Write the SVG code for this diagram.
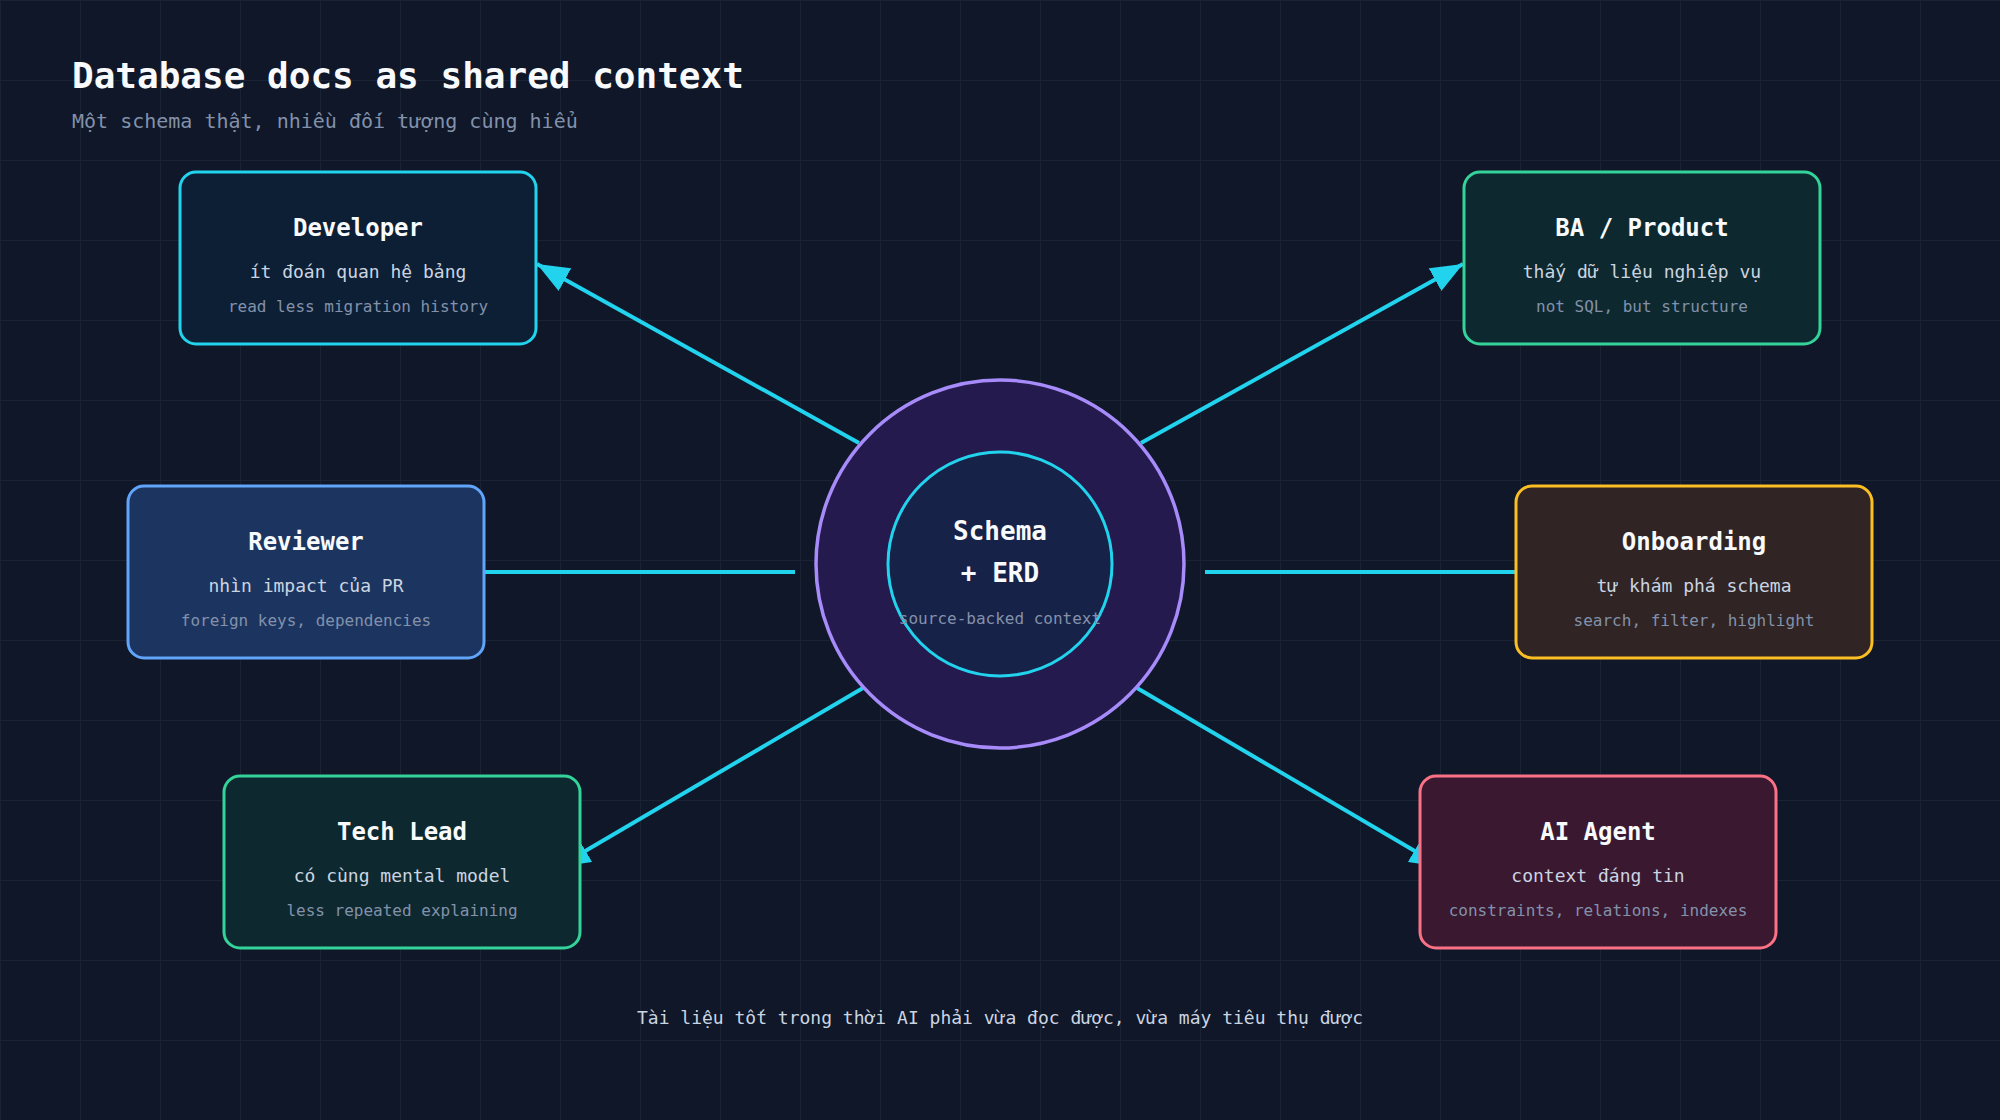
<svg xmlns="http://www.w3.org/2000/svg" width="2000" height="1120" viewBox="0 0 2000 1120">
<defs>
<pattern id="grid" width="80" height="80" patternUnits="userSpaceOnUse">
<path d="M80 0H0V80" fill="none" stroke="#1c2638" stroke-width="1.5"/>
</pattern>
<marker id="arr" viewBox="0 0 32 26" refX="32" refY="13" markerWidth="32" markerHeight="26" markerUnits="userSpaceOnUse" orient="auto">
<path d="M0,0 L32,13 L0,26 z" fill="#22d3ee"/>
</marker>
<style>
text{font-family:"DejaVu Sans Mono","Liberation Mono",monospace;text-anchor:middle}
.t{font-size:24px;font-weight:bold;fill:#f8fafc}
.s{font-size:18px;fill:#cbd5e1}
.n{font-size:16px;fill:#8391aa}
.box{stroke-width:3}
.conn{stroke:#22d3ee;stroke-width:4;fill:none}
</style>
</defs>
<rect width="2000" height="1120" fill="#0f1729"/>
<rect width="2000" height="1120" fill="url(#grid)"/>

<text x="72" y="88" style="text-anchor:start;font-size:36px;font-weight:bold;fill:#f8fafc">Database docs as shared context</text>
<text x="72" y="128" style="text-anchor:start;font-size:20px;fill:#8391aa">Một schema thật, nhiều đối tượng cùng hiểu</text>

<g id="connectors">
<line class="conn" x1="859" y1="443" x2="537" y2="264" marker-end="url(#arr)"/>
<line class="conn" x1="1141" y1="443" x2="1463" y2="264" marker-end="url(#arr)"/>
<line class="conn" x1="795" y1="572" x2="450" y2="572" marker-end="url(#arr)"/>
<line class="conn" x1="1205" y1="572" x2="1550" y2="572" marker-end="url(#arr)"/>
<line class="conn" x1="863" y1="688" x2="558" y2="867" marker-end="url(#arr)"/>
<line class="conn" x1="1137" y1="688" x2="1442" y2="867" marker-end="url(#arr)"/>
</g>

<g id="center">
<circle cx="1000" cy="564" r="184" fill="#241a4d" stroke="#a78bfa" stroke-width="3.5"/>
<circle cx="1000" cy="564" r="112" fill="#172249" stroke="#22d3ee" stroke-width="3"/>
<text x="1000" y="540" style="font-size:26px;font-weight:bold;fill:#f8fafc">Schema</text>
<text x="1000" y="582" style="font-size:26px;font-weight:bold;fill:#f8fafc">+ ERD</text>
<text x="1000" y="624" class="n">source-backed context</text>
</g>

<g id="developer">
<rect class="box" x="180" y="172" width="356" height="172" rx="16" fill="#0c1f35" stroke="#22d3ee"/>
<text x="358" y="236" class="t">Developer</text>
<text x="358" y="278" class="s">ít đoán quan hệ bảng</text>
<text x="358" y="312" class="n">read less migration history</text>
</g>

<g id="ba-product">
<rect class="box" x="1464" y="172" width="356" height="172" rx="16" fill="#0d292f" stroke="#34d399"/>
<text x="1642" y="236" class="t">BA / Product</text>
<text x="1642" y="278" class="s">thấy dữ liệu nghiệp vụ</text>
<text x="1642" y="312" class="n">not SQL, but structure</text>
</g>

<g id="reviewer">
<rect class="box" x="128" y="486" width="356" height="172" rx="16" fill="#1c3560" stroke="#60a5fa"/>
<text x="306" y="550" class="t">Reviewer</text>
<text x="306" y="592" class="s">nhìn impact của PR</text>
<text x="306" y="626" class="n">foreign keys, dependencies</text>
</g>

<g id="onboarding">
<rect class="box" x="1516" y="486" width="356" height="172" rx="16" fill="#302424" stroke="#fbbf24"/>
<text x="1694" y="550" class="t">Onboarding</text>
<text x="1694" y="592" class="s">tự khám phá schema</text>
<text x="1694" y="626" class="n">search, filter, highlight</text>
</g>

<g id="tech-lead">
<rect class="box" x="224" y="776" width="356" height="172" rx="16" fill="#0d292f" stroke="#34d399"/>
<text x="402" y="840" class="t">Tech Lead</text>
<text x="402" y="882" class="s">có cùng mental model</text>
<text x="402" y="916" class="n">less repeated explaining</text>
</g>

<g id="ai-agent">
<rect class="box" x="1420" y="776" width="356" height="172" rx="16" fill="#3a1830" stroke="#fb7185"/>
<text x="1598" y="840" class="t">AI Agent</text>
<text x="1598" y="882" class="s">context đáng tin</text>
<text x="1598" y="916" class="n">constraints, relations, indexes</text>
</g>

<text x="1000" y="1024" style="font-size:18px;fill:#cbd5e1">Tài liệu tốt trong thời AI phải vừa đọc được, vừa máy tiêu thụ được</text>
</svg>
